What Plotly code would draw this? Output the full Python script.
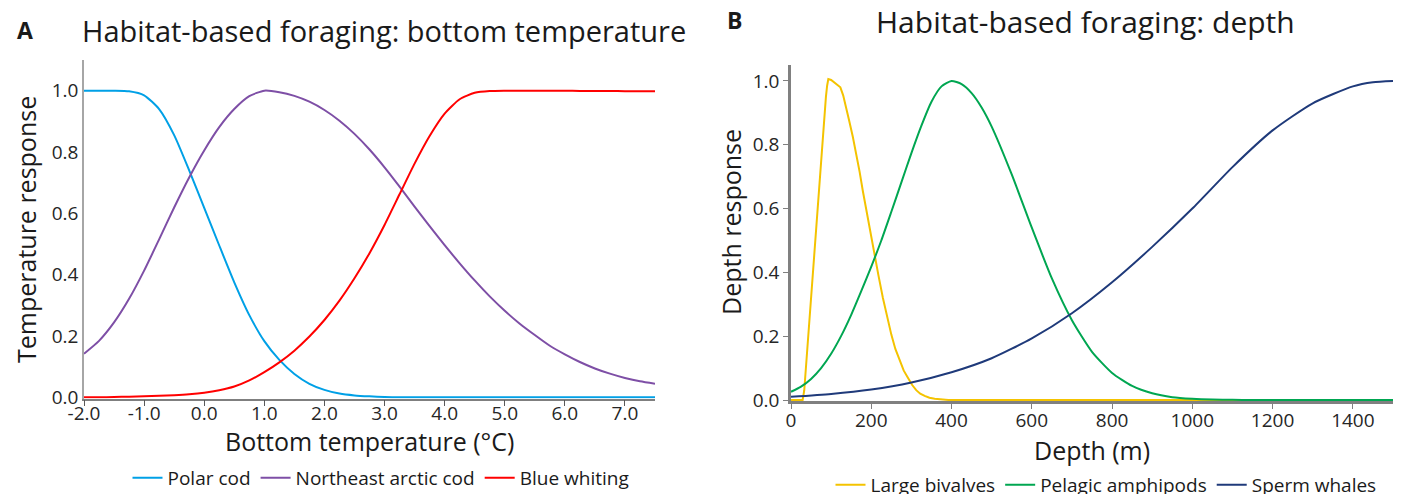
import plotly.graph_objects as go

# ---------------- data: panel A (bottom temperature) ----------------
temperature = [-2.0, -1.75, -1.5, -1.25, -1.0, -0.75, -0.5, -0.25, 0.0, 0.25, 0.5, 0.75,
               1.0, 1.25, 1.5, 1.75, 2.0, 2.25, 2.5, 2.75, 3.0, 3.25, 3.5, 3.75, 4.0,
               4.25, 4.5, 4.75, 5.0, 5.25, 5.5, 5.75, 6.0, 6.25, 6.5, 6.75, 7.0, 7.25, 7.5]
polar_cod = [1.0, 1.0, 1.0, 0.998, 0.985, 0.94, 0.855, 0.74, 0.618, 0.495, 0.375, 0.268,
             0.183, 0.122, 0.076, 0.044, 0.024, 0.012, 0.006, 0.003, 0.001, 0.0, 0.0, 0.0, 0.0,
             0.0, 0.0, 0.0, 0.0, 0.0, 0.0, 0.0, 0.0, 0.0, 0.0, 0.0, 0.0, 0.0, 0.0]
northeast_arctic_cod = [0.142, 0.184, 0.244, 0.321, 0.413, 0.515, 0.619, 0.717, 0.805, 0.881, 0.94, 0.982,
                        1.0, 0.995, 0.983, 0.964, 0.937, 0.902, 0.859, 0.808, 0.75, 0.687, 0.622, 0.558, 0.496,
                        0.437, 0.381, 0.329, 0.282, 0.24, 0.203, 0.168, 0.14, 0.115, 0.094, 0.077, 0.063, 0.052, 0.044]
blue_whiting = [0.0, 0.0, 0.001, 0.002, 0.003, 0.005, 0.007, 0.01, 0.015, 0.023, 0.035, 0.055,
                0.082, 0.114, 0.152, 0.198, 0.252, 0.315, 0.388, 0.47, 0.562, 0.662, 0.762, 0.852, 0.925,
                0.972, 0.993, 0.999, 1.0, 1.0, 1.0, 1.0, 1.0, 0.999, 0.999, 0.999, 0.998, 0.998, 0.998]

temp_tickvals = [-2, -1, 0, 1, 2, 3, 4, 5, 6, 7]
temp_ticktext = ["-2.0", "-1.0", "0.0", "1.0", "2.0", "3.0", "4.0", "5.0", "6.0", "7.0"]
resp_tickvals_a = [0.0, 0.2, 0.4, 0.6, 0.8, 1.0]
resp_ticktext_a = ["0.0", "0.2", "0.4", "0.6", "0.8", "1.0"]

# ---------------- data: panel B (depth) ----------------
bivalve_depth = [0, 20, 29, 33, 40, 50, 60, 70, 80, 87, 90, 93, 100, 108, 118, 123, 130, 137, 145,
                 154, 162, 171, 179, 187, 197, 208, 218, 229, 240, 250, 260, 271, 281, 292, 302,
                 312, 322, 333, 345, 358, 375, 392, 500, 700, 900, 1100, 1300, 1500]
large_bivalves = [0.0, 0.0, 0.0, 0.03, 0.15, 0.33, 0.51, 0.69, 0.86, 0.95, 0.985, 1.006, 1.003, 0.995,
                  0.987, 0.98, 0.955, 0.92, 0.875, 0.825, 0.775, 0.715, 0.655, 0.6, 0.525, 0.455,
                  0.39, 0.32, 0.255, 0.205, 0.16, 0.123, 0.092, 0.068, 0.047, 0.031, 0.02, 0.013,
                  0.007, 0.004, 0.001, 0.0, 0.0, 0.0, 0.0, 0.0, 0.0, 0.0]
amphipod_depth = [0, 25, 50, 75, 100, 125, 150, 175, 200, 225, 250, 275, 300, 325, 350, 375, 400,
                  425, 450, 475, 500, 550, 600, 650, 700, 750, 800, 850, 900, 950, 1000, 1050, 1100,
                  1150, 1200, 1300, 1400, 1500]
pelagic_amphipods = [0.026, 0.042, 0.066, 0.1, 0.145, 0.201, 0.267, 0.341, 0.418, 0.5, 0.59, 0.682,
                     0.774, 0.86, 0.935, 0.983, 1.0, 0.99, 0.962, 0.917, 0.857, 0.707, 0.54, 0.381,
                     0.25, 0.151, 0.085, 0.044, 0.021, 0.009, 0.004, 0.0015, 0.0005, 0.0, 0.0, 0.0,
                     0.0, 0.0]
whale_depth = [0, 100, 200, 300, 400, 500, 600, 700, 800, 900, 1000, 1100, 1200, 1300, 1400, 1450, 1500]
sperm_whales = [0.010, 0.019, 0.033, 0.055, 0.087, 0.131, 0.193, 0.272, 0.369, 0.48, 0.6, 0.73,
                0.845, 0.93, 0.983, 0.996, 1.0]

depth_tickvals = [0, 200, 400, 600, 800, 1000, 1200, 1400]
depth_ticktext = ["0", "200", "400", "600", "800", "1000", "1200", "1400"]
resp_tickvals_b = [0.0, 0.2, 0.4, 0.6, 0.8, 1.0]
resp_ticktext_b = ["0.0", "0.2", "0.4", "0.6", "0.8", "1.0"]

FONT = "'Open Sans', Lato, sans-serif"
W, H = 1407, 494

fig = go.Figure()

def add(x, y, name, color, xa, ya, legend, shape="spline", smoothing=0.6):
    fig.add_trace(go.Scatter(x=x, y=y, name=name, mode="lines", xaxis=xa, yaxis=ya,
                             legend=legend,
                             line=dict(color=color, width=2, shape=shape, smoothing=smoothing)))

add(temperature, polar_cod, "Polar cod", "#00A0E6", "x", "y", "legend")
add(temperature, northeast_arctic_cod, "Northeast arctic cod", "#7E4FA6", "x", "y", "legend")
add(temperature, blue_whiting, "Blue whiting", "#FF0000", "x", "y", "legend")

add(bivalve_depth, large_bivalves, "Large bivalves", "#F4C300", "x2", "y2", "legend2", shape="linear")
add(amphipod_depth, pelagic_amphipods, "Pelagic amphipods", "#00A651", "x2", "y2", "legend2")
add(whale_depth, sperm_whales, "Sperm whales", "#1F3A7A", "x2", "y2", "legend2")

def px(x):
    return x / W

def py(y):
    return (H - y) / H

tickfont = dict(family=FONT, size=19, color="#262626")

fig.update_layout(
    width=W, height=H,
    margin=dict(l=0, r=0, t=0, b=0, autoexpand=False),
    paper_bgcolor="white", plot_bgcolor="white",
    font=dict(family=FONT, color="#1a1a1a"),
    xaxis=dict(domain=[px(84), px(655)], range=[-2, 7.5], anchor="y",
               tickvals=temp_tickvals, ticktext=temp_ticktext, tickfont=tickfont,
               ticks="outside", ticklen=6, tickcolor="#595959", tickwidth=1,
               ticklabelstandoff=-9,
               showline=True, linecolor="#7F7F7F", linewidth=1.5,
               showgrid=False, zeroline=False, layer="below traces"),
    yaxis=dict(domain=[py(398.5), py(60)], range=[-0.004, 1.1], anchor="x",
               tickvals=resp_tickvals_a, ticktext=resp_ticktext_a, tickfont=tickfont,
               ticks="", showline=True, linecolor="#A6A6A6", linewidth=1.5,
               showgrid=False, zeroline=False, layer="below traces"),
    xaxis2=dict(domain=[px(791), px(1393)], range=[0, 1500], anchor="y2",
                tickvals=depth_tickvals, ticktext=depth_ticktext, tickfont=tickfont,
                ticks="outside", ticklen=5, tickcolor="#808080", tickwidth=1,
                ticklabelstandoff=-5,
                showline=True, linecolor="#808080", linewidth=2.5,
                showgrid=False, zeroline=False, layer="below traces"),
    yaxis2=dict(domain=[py(401.3), py(65)], range=[-0.004, 1.05], anchor="x2",
                tickvals=resp_tickvals_b, ticktext=resp_ticktext_b, tickfont=tickfont,
                ticks="outside", ticklen=5, tickcolor="#808080", tickwidth=1,
                showline=True, linecolor="#808080", linewidth=2.5,
                showgrid=False, zeroline=False, layer="below traces"),
    legend=dict(orientation="h", x=px(381), y=py(478), xanchor="center", yanchor="middle",
                font=dict(family=FONT, size=19, color="#1a1a1a"), bgcolor="rgba(0,0,0,0)"),
    legend2=dict(orientation="h", x=px(1106), y=py(485), xanchor="center", yanchor="middle",
                 font=dict(family=FONT, size=19, color="#1a1a1a"), bgcolor="rgba(0,0,0,0)"),
    showlegend=True,
)

ann = [
    dict(text="<b>A</b>", x=px(25), y=py(30), size=23),
    dict(text="Habitat-based foraging: bottom temperature", x=px(80), y=py(30), size=29, xanchor="left"),
    dict(text="<b>B</b>", x=px(735), y=py(20), size=23),
    dict(text="Habitat-based foraging: depth", x=px(1085), y=py(22), size=30),
    dict(text="Bottom temperature (°C)", x=px(369), y=py(441), size=25),
    dict(text="Depth (m)", x=px(1092), y=py(450), size=25),
    dict(text="Temperature response", x=px(26), y=py(230), size=25, textangle=-90),
    dict(text="Depth response", x=px(731), y=py(222), size=25, textangle=-90),
]
for a in ann:
    fig.add_annotation(text=a["text"], x=a["x"], y=a["y"], xref="paper", yref="paper",
                       xanchor=a.get("xanchor", "center"), yanchor="middle",
                       textangle=a.get("textangle", 0), showarrow=False,
                       font=dict(family=FONT, size=a["size"], color="#1a1a1a"))

fig.write_html("out.html")
